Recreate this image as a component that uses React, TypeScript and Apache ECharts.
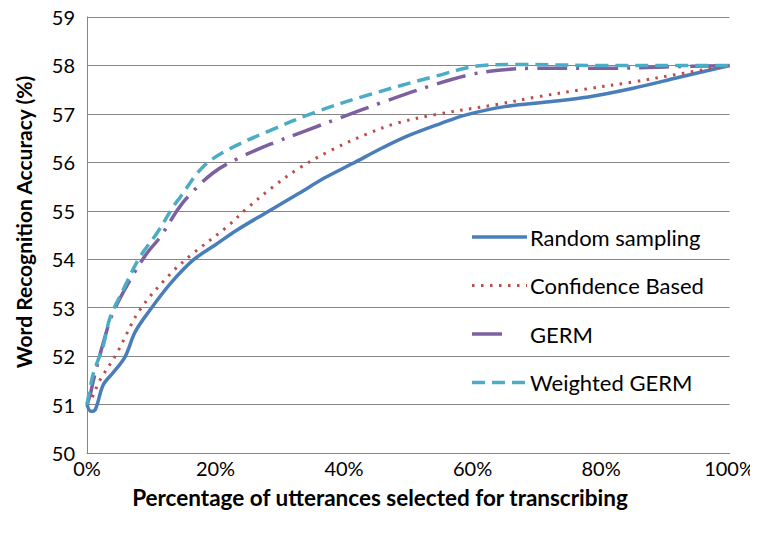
import React, { useEffect, useRef } from "react";
import * as echarts from "echarts";

const xTicks = [0, 20, 40, 60, 80, 100];
const seriesNames = ["Random sampling", "Confidence Based", "GERM", "Weighted GERM"];
const xTitle = "Percentage of utterances selected for transcribing";
const yTitle = "Word Recognition Accuracy (%)";
const randomSampling: [number, number][] = [
  [0, 51.0], [0.6, 50.86], [1.3, 50.9], [2.5, 51.4], [4, 51.65], [5.9, 51.98], [7.5, 52.5], [9.8, 52.95],
  [13, 53.5], [16.5, 53.98], [20, 54.3], [23.3, 54.6], [28, 54.97], [33, 55.36], [37, 55.68], [41.4, 55.98],
  [46, 56.3], [50, 56.55], [55, 56.8], [59, 56.98], [65, 57.15], [72, 57.25], [78, 57.35], [85, 57.53],
  [92, 57.75], [100, 58.0],
];
const confidenceBased: [number, number][] = [
  [0, 51.0], [0.8, 51.15], [2, 51.5], [4.6, 52.05], [8.2, 52.95], [13, 53.7], [16.5, 54.12],
  [21.7, 54.66], [24.9, 55.05], [29, 55.5], [33, 55.88], [38, 56.25], [43.5, 56.58], [48, 56.8], [54, 56.98],
  [64, 57.2], [70, 57.35], [77, 57.5], [85, 57.66], [92, 57.82], [100, 58.0],
];
const germ: [number, number][] = [
  [0, 51.0], [0.5, 51.2], [1, 51.5], [2.5, 52.26], [4, 52.88], [6.7, 53.57], [9.3, 54.12],
  [11.4, 54.46], [14, 55.0], [15.5, 55.26], [19.6, 55.78], [23.8, 56.1], [29, 56.4], [34, 56.65],
  [39, 56.9], [46, 57.24], [54, 57.6], [60, 57.82], [64, 57.9], [69, 57.94], [80, 57.94], [90, 57.97], [100, 58.0],
];
const weightedGerm: [number, number][] = [
  [0, 51.0], [1, 51.65], [2.5, 52.2], [3.6, 52.8], [5.6, 53.36], [8.2, 54.04], [10.9, 54.54],
  [13.4, 55.08], [14.5, 55.28], [18, 55.9], [21.8, 56.25], [28, 56.63], [35.8, 57.05],
  [43.5, 57.38], [54, 57.77], [61.6, 58.0], [67, 58.02], [80, 58.0], [90, 58.0], [100, 58.0],
];

const FONT = "Lato";
const colors = ["#4a7ebb", "#be4b48", "#7d60a0", "#4bacc6"];
const dashes: any[] = [null, [2.5, 6.5], [30, 9, 3, 9], [13, 7]];
const widths = [3.5, 3, 3.5, 3.5];

export default function App() {
  const ref = useRef<HTMLDivElement>(null);
  useEffect(() => {
    if (!ref.current) return;
    const chart = echarts.init(ref.current, null, { renderer: "svg" });
    const allData = [randomSampling, confidenceBased, germ, weightedGerm];
    const series = seriesNames.map((name, i) => ({
      name,
      type: "line",
      data: allData[i],
      smooth: 0.35,
      symbol: "none",
      lineStyle: { color: colors[i], width: widths[i], type: dashes[i] || "solid" },
      itemStyle: { color: colors[i] },
    }));
    const els: any[] = [];
    seriesNames.forEach((name, i) => {
      const cy = 237 + i * 48.5;
      const x2 = i === 2 ? 508 : 527;
      els.push({
        type: "line",
        shape: { x1: 472, y1: cy, x2, y2: cy },
        style: {
          stroke: colors[i],
          lineWidth: widths[i],
          lineDash: dashes[i] || undefined,
        },
      });
      els.push({
        type: "text",
        x: 530,
        y: cy,
        style: {
          text: name,
          fill: "#000",
          font: `22px ${FONT}`,
          verticalAlign: "middle",
          align: "left",
        },
      });
    });
    els.push({
      type: "text",
      x: 23,
      y: 222,
      rotation: Math.PI / 2,
      style: {
        text: yTitle,
        fill: "#000",
        font: `bold 21px ${FONT}`,
        align: "center",
        verticalAlign: "middle",
      },
    });
    els.push({
      type: "text",
      x: 380,
      y: 497,
      style: {
        text: xTitle,
        fill: "#000",
        font: `bold 22.5px ${FONT}`,
        align: "center",
        verticalAlign: "middle",
      },
    });
    chart.setOption({
      animation: false,
      backgroundColor: "#ffffff",
      grid: { left: 87, right: 28, top: 17, bottom: 87 },
      xAxis: {
        type: "value",
        min: 0,
        max: 100,
        interval: 20,
        axisLine: { show: true, lineStyle: { color: "#868686", width: 1 } },
        axisTick: { show: false },
        splitLine: { show: false },
        axisLabel: {
          formatter: (v: number) => (xTicks.includes(v) ? v + "%" : ""),
          color: "#000",
          fontSize: 20,
          fontFamily: FONT,
          margin: 5,
        },
      },
      yAxis: {
        type: "value",
        min: 50,
        max: 59,
        interval: 1,
        axisLine: { show: true, lineStyle: { color: "#868686", width: 1 } },
        axisTick: { show: false },
        splitLine: { show: true, lineStyle: { color: "#868686", width: 1 } },
        axisLabel: { color: "#000", fontSize: 20, fontFamily: FONT, margin: 12 },
      },
      graphic: els,
      series,
    });
    return () => chart.dispose();
  }, []);
  return <div ref={ref} style={{ width: 758, height: 540, margin: -8 }} />;
}
